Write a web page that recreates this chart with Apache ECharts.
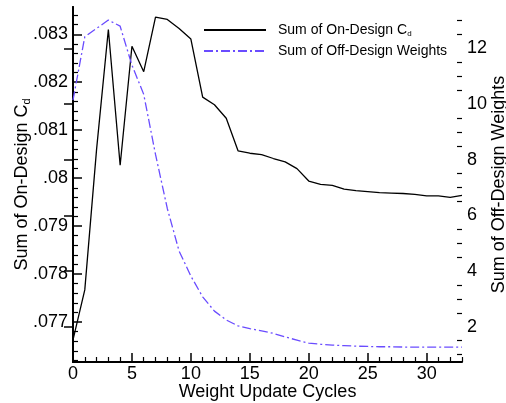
<!DOCTYPE html>
<html>
<head>
<meta charset="utf-8">
<script src="https://cdn.jsdelivr.net/npm/echarts@6/dist/echarts.min.js"></script>
<style>
  html, body { margin: 0; padding: 0; background: #fff; }
  #chart { width: 506px; height: 403px; }
</style>
</head>
<body>
<div id="chart"></div>
<script>
// 横轴：权重更新次数
const cycles = [0, 1, 2, 3, 4, 5, 6, 7, 8, 9, 10, 11, 12, 13, 14, 15, 16,
  17, 18, 19, 20, 21, 22, 23, 24, 25, 26, 27, 28, 29, 30, 31, 32, 33]
// 左轴：设计点阻力系数之和
const cdSum = [0.07663, 0.07767, 0.08060, 0.08310, 0.08027, 0.08275, 0.08222,
  0.08336, 0.08331, 0.08312, 0.08290, 0.08169, 0.08153, 0.08125, 0.08057,
  0.08052, 0.08049, 0.08041, 0.08034, 0.08020, 0.07994, 0.07987, 0.07985,
  0.07977, 0.07974, 0.07972, 0.07970, 0.07969, 0.07968, 0.07966, 0.07963,
  0.07963, 0.07960, 0.07964]
// 右轴：非设计点权重之和
const weightSum = [10.14, 12.42, 12.72, 13.02, 12.80, 11.40, 10.35, 8.19, 6.25,
  4.72, 3.82, 3.07, 2.56, 2.24, 2.03, 1.93, 1.85, 1.76, 1.63, 1.52, 1.41, 1.37,
  1.34, 1.32, 1.30, 1.29, 1.28, 1.28, 1.27, 1.27, 1.27, 1.27, 1.27, 1.27]

// 刻度
const xTicks = [0, 5, 10, 15, 20, 25, 30]
const cdTicks = [0.077, 0.078, 0.079, 0.080, 0.081, 0.082, 0.083]
const wTicks = [2, 4, 6, 8, 10, 12]

const cdName = 'Sum of On-Design Cd'
const wName = 'Sum of Off-Design Weights'
const font = '"Liberation Sans", Arial, Helvetica, sans-serif'

// 次刻度
const xMinor = []
for (let i = 0; i <= 33; i++) if (i % 5 !== 0) xMinor.push(i)
const cdMinor = []
for (let i = 381; i <= 417; i++) if (i % 5 !== 0) cdMinor.push(+(i * 0.0002).toFixed(4))
const wMinor = []
for (let i = 2; i <= 27; i++) if (i % 4 !== 0) wMinor.push(i * 0.5)

const black = '#000'
const blue = '#6a4cff'

function majorAxis(extra) {
  return Object.assign({
    type: 'value',
    splitLine: { show: false },
    nameMoveOverlap: false,
    axisLine: { show: true, lineStyle: { color: black, width: 2 } },
    axisTick: { show: true, inside: true, length: 9, lineStyle: { color: black, width: 1.5 } },
    axisLabel: { color: black, fontSize: 18, fontFamily: font, margin: 5 },
    nameTextStyle: { color: black, fontSize: 18, fontFamily: font }
  }, extra)
}

function minorAxis(extra) {
  return Object.assign({
    type: 'value',
    splitLine: { show: false },
    axisLine: { show: false },
    axisLabel: { show: false },
    axisTick: { show: true, inside: true, length: 5, lineStyle: { color: black, width: 1.2 } }
  }, extra)
}

const chart = echarts.init(document.getElementById('chart'))

const option = {
  backgroundColor: '#fff',
  animation: false,
  grid: { left: 73, right: 44, top: 7, bottom: 41, containLabel: false, outerBoundsMode: 'none' },
  legend: {
    orient: 'vertical',
    left: 203,
    top: 23,
    padding: 0,
    itemWidth: 62,
    itemHeight: 14,
    itemGap: 6,
    data: [cdName, wName],
    itemStyle: { color: 'transparent', borderColor: 'transparent', borderWidth: 0 },
    formatter: function (name) {
      return name === cdName ? '{a|Sum of On-Design C}{sub|d}' : '{a|' + name + '}'
    },
    textStyle: {
      padding: [0, 0, 0, 7],
      rich: {
        a: { fontSize: 14, fontFamily: font, color: black, lineHeight: 16 },
        sub: { fontSize: 8, fontFamily: font, color: black, lineHeight: 16, verticalAlign: 'bottom' }
      }
    }
  },
  xAxis: [
    majorAxis({
      min: 0, max: 33,
      name: 'Weight Update Cycles',
      nameLocation: 'middle',
      nameGap: 21,
      axisTick: { show: true, inside: true, length: 9, customValues: xTicks, lineStyle: { color: black, width: 1.5 } },
      axisLabel: { color: black, fontSize: 18, fontFamily: font, margin: 3, customValues: xTicks }
    }),
    minorAxis({
      min: 0, max: 33, position: 'bottom',
      axisTick: { show: true, inside: true, length: 5, customValues: xMinor, lineStyle: { color: black, width: 1.2 } }
    })
  ],
  yAxis: [
    majorAxis({
      position: 'left',
      min: 0.076167, max: 0.083569,
      name: '{a|Sum of On-Design C}{sub|d}',
      nameLocation: 'middle',
      nameRotate: 90,
      nameGap: 41,
      nameTextStyle: {
        rich: {
          a: { fontSize: 18, fontFamily: font, color: black, lineHeight: 20 },
          sub: { fontSize: 11, fontFamily: font, color: black, lineHeight: 20, verticalAlign: 'bottom' }
        }
      },
      axisTick: { show: true, inside: true, length: 9, customValues: cdTicks, lineStyle: { color: black, width: 1.5 } },
      axisLabel: {
        color: black, fontSize: 18, fontFamily: font, margin: 5, customValues: cdTicks,
        formatter: function (v) {
          return (+v.toFixed(3)).toString().replace(/^0/, '')
        }
      }
    }),
    majorAxis({
      position: 'right',
      min: 0.732, max: 13.49,
      name: wName,
      nameLocation: 'middle',
      nameRotate: 90,
      nameGap: 28,
      axisTick: { show: true, inside: true, length: 9, customValues: wTicks, lineStyle: { color: black, width: 1.5 } },
      axisLabel: { color: black, fontSize: 18, fontFamily: font, margin: 5, customValues: wTicks }
    }),
    minorAxis({
      position: 'left',
      min: 0.076167, max: 0.083569,
      axisTick: { show: true, inside: true, length: 5, customValues: cdMinor, lineStyle: { color: black, width: 1.2 } }
    }),
    minorAxis({
      position: 'right',
      min: 0.732, max: 13.49,
      axisTick: { show: true, inside: true, length: 5, customValues: wMinor, lineStyle: { color: black, width: 1.2 } }
    })
  ],
  series: [
    {
      name: cdName,
      type: 'line',
      xAxisIndex: 0,
      yAxisIndex: 0,
      symbol: 'none',
      data: cycles.map((c, i) => [c, cdSum[i]]),
      lineStyle: { color: black, width: 1.3 },
      itemStyle: { color: black }
    },
    {
      name: wName,
      type: 'line',
      xAxisIndex: 0,
      yAxisIndex: 1,
      symbol: 'none',
      data: cycles.map((c, i) => [c, weightSum[i]]),
      lineStyle: { color: blue, width: 1.3, type: [9, 3, 2, 3] },
      itemStyle: { color: blue }
    }
  ]
}

chart.setOption(option)
</script>
</body>
</html>
